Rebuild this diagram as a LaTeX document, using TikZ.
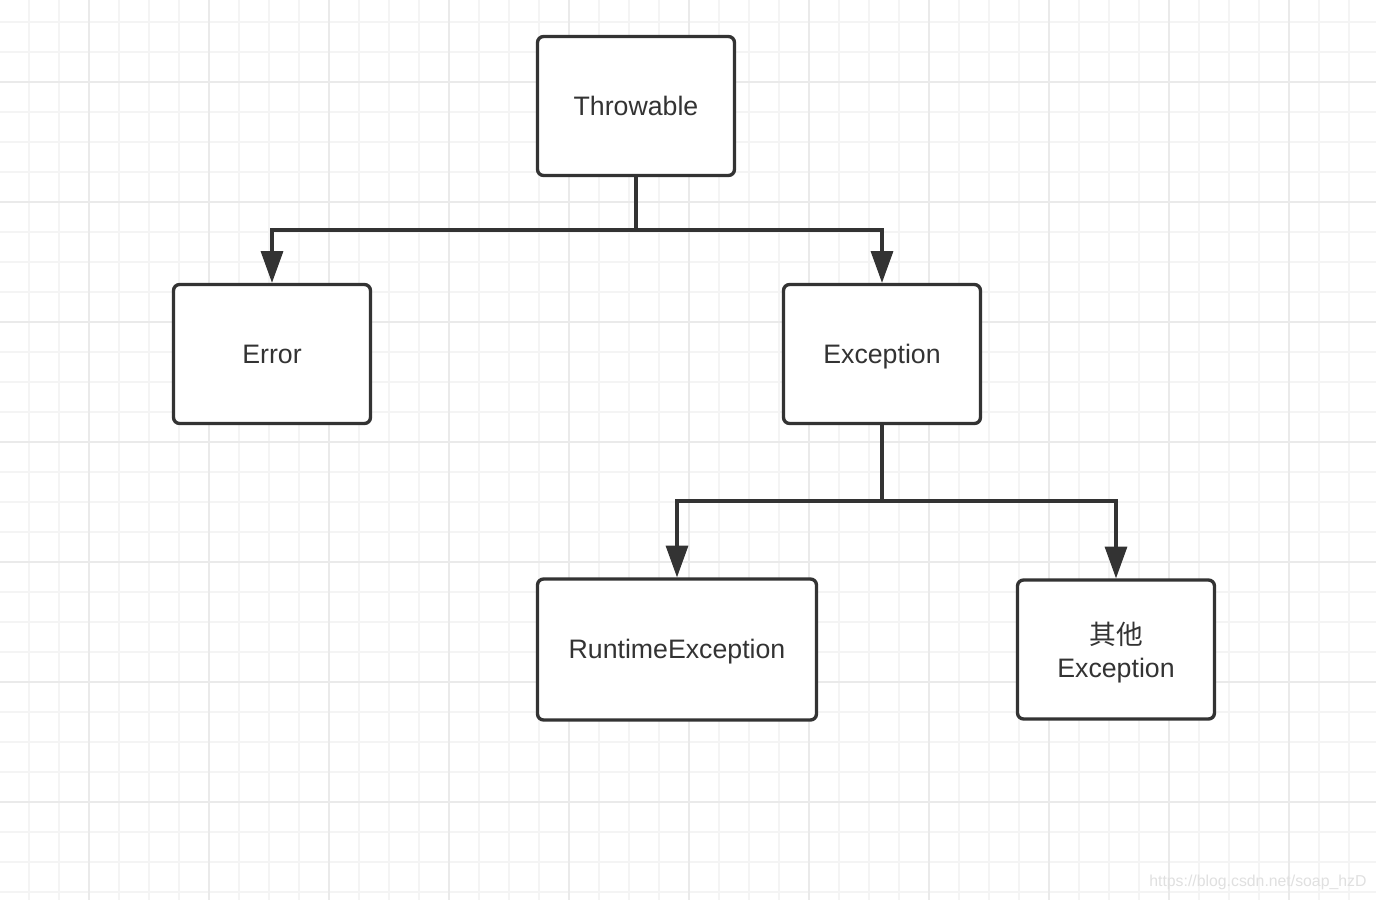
\documentclass[tikz,border=0pt]{standalone}
\usepackage{fontspec}
\setmainfont{Liberation Sans}
\newfontfamily\cjk{Noto Sans CJK SC}
\usetikzlibrary{arrows.meta}
\definecolor{ink}{HTML}{333333}
\definecolor{gridminor}{HTML}{F4F4F4}
\definecolor{gridmajor}{HTML}{EAEAEA}
\definecolor{mark}{HTML}{E0E0E0}

\begin{document}
\begin{tikzpicture}[x=0.02cm,y=-0.02cm,>={Triangle[width=12.5pt,length=18pt]},semithick]
  \tikzstyle{class}=[rectangle,rounded corners=3.4pt,draw=ink,line width=1.9pt,fill=white,text=ink,minimum width=3.94cm,minimum height=2.78cm,font=\fontsize{15.2}{19}\selectfont,align=center]
  \tikzstyle{oneline}=[text height=12pt,text depth=1.3pt]
  \tikzstyle{link}=[draw=ink,line width=1.75pt]
  \fill[white] (0,0) rectangle (1376,900);
  \useasboundingbox (0,0) rectangle (1376,900);
  % grid paper
  \foreach \gx in {29,59,...,1376} \draw[gridminor,line width=1.1pt] (\gx,0) -- (\gx,900);
  \foreach \gy in {22,52,...,900} \draw[gridminor,line width=1.1pt] (0,\gy) -- (1376,\gy);
  \foreach \gx in {89,209,...,1376} \draw[gridmajor,line width=1.1pt] (\gx,0) -- (\gx,900);
  \foreach \gy in {82,202,...,900} \draw[gridmajor,line width=1.1pt] (0,\gy) -- (1376,\gy);

  \node[class,oneline] (throwable) at (636,106) {Throwable};
  \node[class,oneline] (error)     at (272,354) {Error};
  \node[class,oneline] (exception) at (882,354) {Exception};
  \node[class,oneline,minimum width=5.58cm,minimum height=2.82cm] (runtime) at (677,649.5) {RuntimeException};
  \node[class,text depth=0pt] (other) at (1116,649.5) {{\cjk 其他}\\Exception};

  \coordinate (split1) at (636,230);
  \coordinate (split2) at (882,501);

  \path[link] (throwable) -- (split1);
  \path[link,->] (split1) -| (error);
  \path[link,->] (split1) -| (exception);
  \path[link] (exception) -- (split2);
  \path[link,->] (split2) -| (runtime);
  \path[link,->] (split2) -| (other);

  \node[anchor=east,inner sep=0pt,text=mark,font=\fontsize{9}{11}\selectfont] (url) at (1367,882) {https://blog.csdn.net/soap\_hzD};
\end{tikzpicture}
\end{document}
